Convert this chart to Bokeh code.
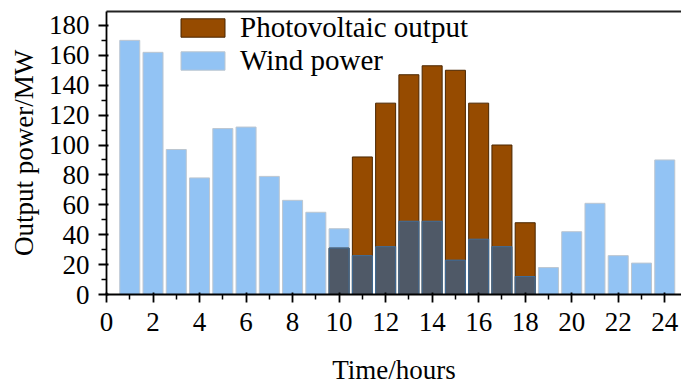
from bokeh.plotting import figure
from bokeh.models import (LinearAxis, FixedTicker, Range1d, Legend, LegendItem,
                          ColumnDataSource)
from bokeh.embed import file_html
from bokeh.resources import INLINE

# Hourly generation, MW
hours = list(range(1, 25))
wind_power = [170, 162, 97, 78, 111, 112, 79, 63, 55, 44, 26, 32,
              49, 49, 23, 37, 32, 12, 18, 42, 61, 26, 21, 90]
pv_hours = [10, 11, 12, 13, 14, 15, 16, 17, 18]
pv_output = [31, 92, 128, 147, 153, 150, 128, 100, 48]

x_ticks = list(range(0, 25, 2))
x_minor = list(range(1, 25, 2))
y_ticks = list(range(0, 181, 20))
y_minor = list(range(10, 181, 20))

FONT = "Liberation Serif"
BLUE = "#92c3f4"
BROWN = "#964b00"
DARK = "#4f5967"

# portion of each PV hour where wind and PV bars overlap
overlap = [min(wind_power[h - 1], v) for h, v in zip(pv_hours, pv_output)]

wind_src = ColumnDataSource(dict(x=hours, top=wind_power))
pv_src = ColumnDataSource(dict(x=pv_hours, top=pv_output))
ov_src = ColumnDataSource(dict(x=pv_hours, top=overlap))

p = figure(width=681, height=387, output_backend="svg", toolbar_location=None,
           x_range=Range1d(0, 24.72), y_range=Range1d(0, 189.3),
           min_border_left=106, min_border_right=0, min_border_top=11,
           min_border_bottom=92)
p.xgrid.visible = False
p.ygrid.visible = False
p.outline_line_color = None
p.background_fill_color = "white"

w = 0.86
r_wind = p.vbar(x="x", top="top", width=w, bottom=0, source=wind_src,
                fill_color=BLUE, line_color="#bcc6d0", line_width=1)
r_pv = p.vbar(x="x", top="top", width=w, bottom=0, source=pv_src,
              fill_color=BROWN, line_color="#4a2600", line_width=1)
p.vbar(x="x", top="top", width=w, bottom=0, source=ov_src,
       fill_color=DARK, line_color="#3d6d9c", line_width=1)

for ax in (p.xaxis[0], p.yaxis[0]):
    ax.axis_line_color = "black"
    ax.axis_line_width = 1.8
    ax.major_tick_line_color = "black"
    ax.minor_tick_line_color = "black"
    ax.major_tick_line_width = 1.8
    ax.minor_tick_line_width = 1.5
    ax.major_tick_in = 2
    ax.major_tick_out = 8
    ax.minor_tick_in = 0
    ax.minor_tick_out = 5
    ax.major_label_text_font = FONT
    ax.major_label_text_font_size = "27px"
    ax.major_label_text_color = "black"
    ax.axis_label_text_font = FONT
    ax.axis_label_text_font_size = "27px"
    ax.axis_label_text_font_style = "normal"
    ax.axis_label_text_color = "black"

p.xaxis[0].ticker = FixedTicker(ticks=x_ticks, minor_ticks=x_minor)
p.yaxis[0].ticker = FixedTicker(ticks=y_ticks, minor_ticks=y_minor)
p.xaxis[0].axis_label = "Time/hours"
p.yaxis[0].axis_label = "Output power/MW"
p.xaxis[0].major_label_standoff = 10
p.xaxis[0].axis_label_standoff = 21
p.yaxis[0].major_label_standoff = 9
p.yaxis[0].axis_label_standoff = 7

# plain frame line along the top
top = LinearAxis(ticker=FixedTicker(ticks=[]), axis_line_color="#222222",
                 axis_line_width=2, major_tick_out=0, major_tick_in=0,
                 minor_tick_out=0, minor_tick_in=0, major_label_standoff=0)
p.add_layout(top, "above")

legend = Legend(items=[LegendItem(label="Photovoltaic output", renderers=[r_pv]),
                       LegendItem(label="Wind power", renderers=[r_wind])],
                location=(69, 217), orientation="vertical",
                glyph_width=55, glyph_height=23, label_standoff=10, spacing=0,
                padding=0, margin=0, border_line_color=None,
                background_fill_alpha=0,
                label_text_font=FONT, label_text_font_size="29px",
                label_text_color="black", label_height=33)
p.add_layout(legend, "center")

open("out.html", "w").write(file_html(p, INLINE))
